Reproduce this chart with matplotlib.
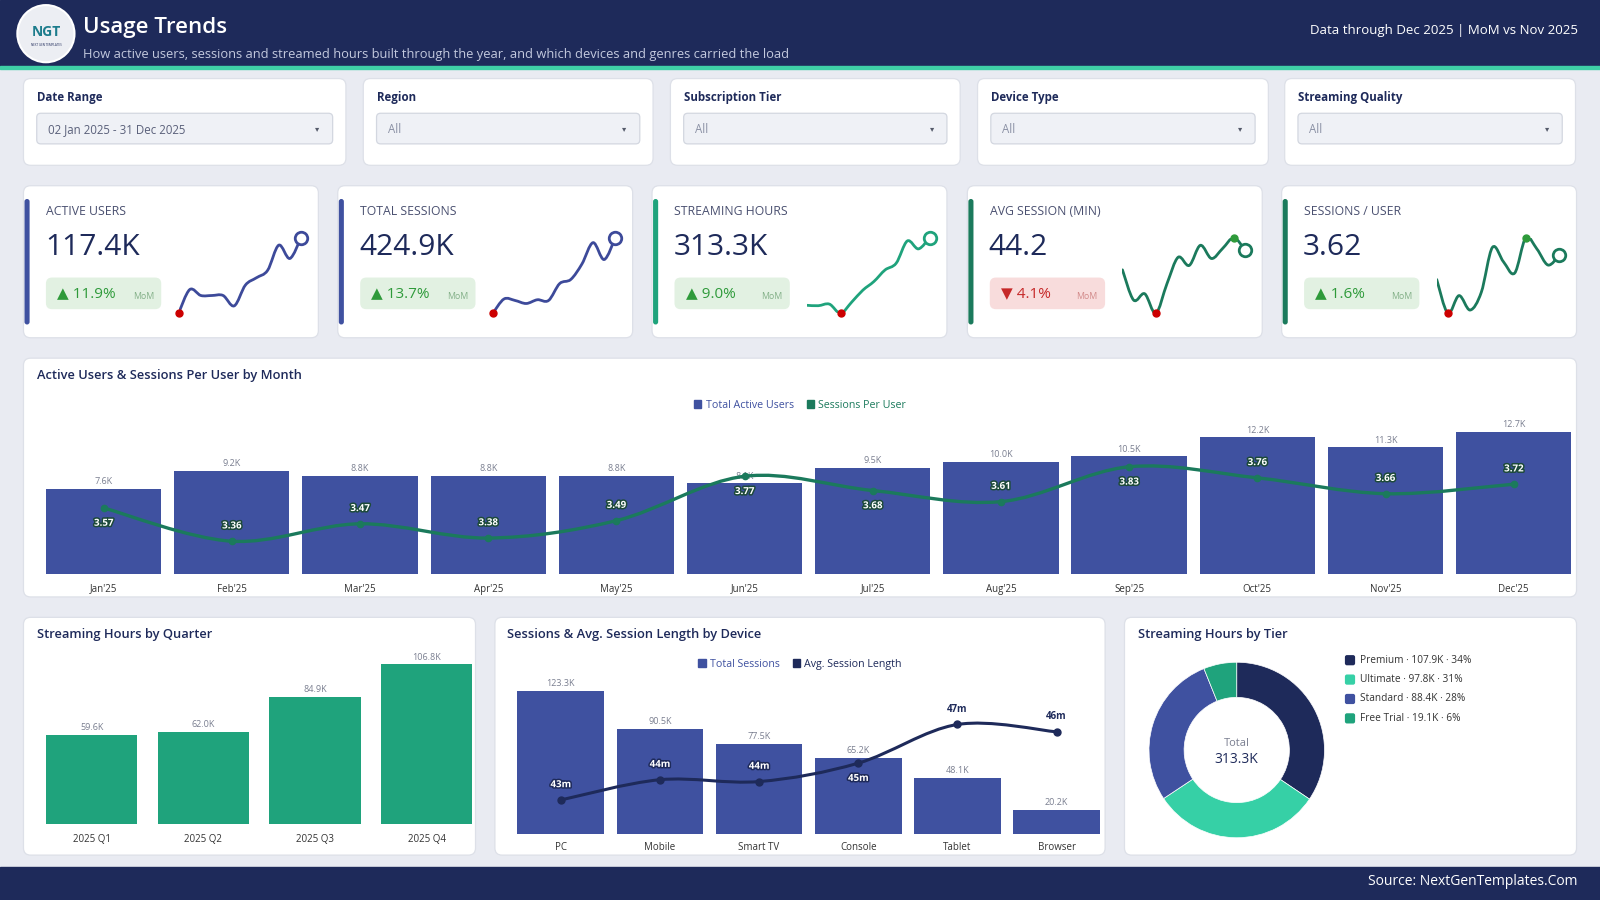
import matplotlib
matplotlib.use("Agg")
import matplotlib.pyplot as plt
from matplotlib.patches import FancyBboxPatch, Rectangle, Circle, Patch, PathPatch
from matplotlib.path import Path
import matplotlib.patheffects as pe

plt.rcParams['font.family'] = ['Open Sans', 'DejaVu Sans']

# ---- data ----
months = ["Jan'25", "Feb'25", "Mar'25", "Apr'25", "May'25", "Jun'25",
          "Jul'25", "Aug'25", "Sep'25", "Oct'25", "Nov'25", "Dec'25"]
active_users = [7.6, 9.2, 8.8, 8.8, 8.8, 8.1, 9.5, 10.0, 10.5, 12.2, 11.3, 12.7]
sessions_per_user = [3.57, 3.36, 3.47, 3.38, 3.49, 3.77, 3.68, 3.61, 3.83, 3.76, 3.66, 3.72]
spu_label_side = [-1, 1, 1, 1, 1, -1, -1, 1, -1, 1, 1, 1]   # 1 = above point, -1 = below
monthly_sessions = [27.1, 30.9, 30.5, 29.7, 30.7, 30.5, 35.0, 36.1, 40.2, 45.9, 41.4, 47.2]
monthly_hours = [19.8, 19.7, 20.1, 17.8, 20.6, 23.6, 25.8, 28.7, 30.4, 36.0, 34.0, 36.8]
monthly_avg_min = [41.0, 36.2, 37.2, 34.1, 38.8, 43.0, 41.7, 44.9, 42.8, 44.4, 46.1, 44.2]

kpi_titles = ["ACTIVE USERS", "TOTAL SESSIONS", "STREAMING HOURS", "AVG SESSION (MIN)", "SESSIONS / USER"]
kpi_values = ["117.4K", "424.9K", "313.3K", "44.2", "3.62"]
kpi_changes = [11.9, 13.7, 9.0, -4.1, 1.6]

quarters = ["2025 Q1", "2025 Q2", "2025 Q3", "2025 Q4"]
quarter_hours = [59.6, 62.0, 84.9, 106.8]

devices = ["PC", "Mobile", "Smart TV", "Console", "Tablet", "Browser"]
device_sessions = [123.3, 90.5, 77.5, 65.2, 48.1, 20.2]
device_avg_len = [42.6, 43.7, 43.6, 44.6, 46.7, 46.3]

tiers = ["Premium", "Ultimate", "Standard", "Free Trial"]
tier_hours = [107.9, 97.8, 88.4, 19.1]
tier_pct = [34, 31, 28, 6]
tier_total = "313.3K"

filter_labels = ["Date Range", "Region", "Subscription Tier", "Device Type", "Streaming Quality"]
filter_values = ["02 Jan 2025 - 31 Dec 2025", "All", "All", "All", "All"]

# ---- colours ----
BG = '#e9ebf2'
NAVY = '#1e2a5a'
BLUE = '#3f51a0'
TEAL = '#1fa37c'
GREEN = '#1b7a5c'
MINT = '#36d0a6'
BORDER = '#dde0e8'
LBL = '#7a7f90'

W, H = 1568, 882
fig = plt.figure(figsize=(16, 9), dpi=100)
bg = fig.add_axes([0, 0, 1, 1])
bg.set_xlim(0, W)
bg.set_ylim(H, 0)
bg.axis('off')
bg.add_patch(Rectangle((0, 0), W, H, color=BG, zorder=0))


def px_axes(x0, y0, x1, y1):
    ax = fig.add_axes([x0 / W, 1 - y1 / H, (x1 - x0) / W, (y1 - y0) / H])
    ax.set_facecolor('none')
    return ax


def card(x0, y0, x1, y1):
    bg.add_patch(FancyBboxPatch((x0, y0), x1 - x0, y1 - y0,
                                boxstyle="round,pad=0,rounding_size=7",
                                fc='white', ec=BORDER, lw=0.9, zorder=1))


def smooth(ax, xs, ys, color, lw, zorder=3):
    pts = list(zip(xs, ys))
    n = len(pts)
    verts = [pts[0]]
    codes = [Path.MOVETO]
    for i in range(n - 1):
        p0 = pts[i - 1] if i > 0 else pts[i]
        p1, p2 = pts[i], pts[i + 1]
        p3 = pts[i + 2] if i + 2 < n else pts[i + 1]
        c1 = (p1[0] + (p2[0] - p0[0]) / 6, p1[1] + (p2[1] - p0[1]) / 6)
        c2 = (p2[0] - (p3[0] - p1[0]) / 6, p2[1] - (p3[1] - p1[1]) / 6)
        verts += [c1, c2, p2]
        codes += [Path.CURVE4] * 3
    ax.add_patch(PathPatch(Path(verts, codes), fill=False, ec=color, lw=lw,
                           capstyle='round', joinstyle='round', zorder=zorder))


# ---- header ----
bg.add_patch(Rectangle((0, 0), W, 65, color=NAVY, zorder=1))
bg.add_patch(Rectangle((0, 65), W, 3, color='#3fcfa6', zorder=1))
bg.add_patch(Circle((45, 33), 28, fc='#eceef3', ec='white', lw=1.5, zorder=2))
bg.text(45, 31, "NGT", ha='center', va='center', fontsize=10, fontweight='bold', color='#1c7c8c', zorder=3)
bg.text(45, 44, "NEXT GEN TEMPLATES", ha='center', va='center', fontsize=2.2, color=NAVY, zorder=3)
bg.text(81, 27, "Usage Trends", ha='left', va='center', fontsize=16, fontweight='semibold', color='white', zorder=3)
bg.text(81, 53, "How active users, sessions and streamed hours built through the year, and which devices and genres carried the load",
        ha='left', va='center', fontsize=9.3, color='#c3c9de', zorder=3)
bg.text(1546, 30, "Data through Dec 2025 | MoM vs Nov 2025", ha='right', va='center', fontsize=9.5, color='white', zorder=3)

# ---- filters ----
filter_x = [(23, 339), (356, 640), (657, 941), (958, 1243), (1259, 1544)]
for (x0, x1), lab, val in zip(filter_x, filter_labels, filter_values):
    card(x0, 77, x1, 162)
    bg.text(x0 + 13, 96, lab, ha='left', va='center', fontsize=8.3, fontweight='bold', color=NAVY, zorder=3)
    bg.add_patch(FancyBboxPatch((x0 + 13, 111), x1 - x0 - 26, 30, boxstyle="round,pad=0,rounding_size=4",
                                fc='#eff1f6', ec='#d3d7e0', lw=0.9, zorder=2))
    bg.text(x0 + 24, 127, val, ha='left', va='center', fontsize=8.3,
            color='#5a607a' if val != "All" else '#8a90a4', zorder=3)
    bg.text(x1 - 28, 127, "▾", ha='center', va='center', fontsize=6, color='#555a6a', zorder=3)

# ---- KPI cards ----
kpi_x = [(23, 312), (331, 620), (639, 928), (948, 1237), (1256, 1545)]
kpi_color = [BLUE, BLUE, TEAL, GREEN, GREEN]
spark_series = [active_users, monthly_sessions, monthly_hours, monthly_avg_min, sessions_per_user]
for i, (x0, x1) in enumerate(kpi_x):
    card(x0, 182, x1, 331)
    bg.add_patch(FancyBboxPatch((x0 + 1, 195), 5, 123, boxstyle="round,pad=0,rounding_size=2.5",
                                fc=kpi_color[i], ec='none', zorder=2))
    bg.text(x0 + 22, 207, kpi_titles[i], ha='left', va='center', fontsize=8.8, color='#4a5070', zorder=3)
    bg.text(x0 + 21, 243, kpi_values[i], ha='left', va='center', fontsize=21.5, color=NAVY, zorder=3)
    up = kpi_changes[i] >= 0
    bg.add_patch(FancyBboxPatch((x0 + 22, 272), 113, 31, boxstyle="round,pad=0,rounding_size=6",
                                fc='#e2f1e2' if up else '#f8dcdc', ec='none', zorder=2))
    bg.text(x0 + 33, 288, ("▲ " if up else "▼ ") + f"{abs(kpi_changes[i]):.1f}%", ha='left', va='center',
            fontsize=11, color='#2e9a3a' if up else '#c62828', zorder=3)
    bg.text(x0 + 107, 291, "MoM", ha='left', va='center', fontsize=6.3,
            color='#83b088' if up else '#d28a8a', zorder=3)

    s = spark_series[i]
    ax = px_axes(x0 + 152, 233, x0 + 272, 307)
    ax.set_xlim(0, len(s) - 1)
    ax.set_ylim(min(s), max(s))
    ax.axis('off')
    xs = list(range(len(s)))
    line_c = kpi_color[i] if i > 1 else '#3d4a9a'
    smooth(ax, xs, s, line_c, 2.0)
    imin = s.index(min(s))
    imax = s.index(max(s))
    ax.plot([imin], [s[imin]], 'o', color='#cc0000', ms=5, clip_on=False, zorder=5)
    if imax != len(s) - 1:
        ax.plot([imax], [s[imax]], 'o', color='#2e9a3a', ms=5, clip_on=False, zorder=5)
    ax.plot([xs[-1]], [s[-1]], 'o', mfc='white', mec=line_c, mew=2, ms=9, clip_on=False, zorder=5)

# ---- monthly chart ----
card(23, 351, 1545, 585)
bg.text(36, 368, "Active Users & Sessions Per User by Month", ha='left', va='center',
        fontsize=9.3, fontweight='semibold', color=NAVY, zorder=3)
ax = px_axes(45, 400, 1540, 563)
xm = list(range(len(months)))
bars = ax.bar(xm, active_users, width=0.9, color=BLUE, zorder=2)
ax.bar_label(bars, labels=[f"{v:.1f}K" for v in active_users], padding=2, fontsize=6.5, color=LBL)
ax.set_xlim(-0.45, len(months) - 0.55)
ax.set_ylim(0, 14.8)
ax.set_xticks(xm)
ax.set_xticklabels(months, fontsize=7, color='#333')
ax.tick_params(axis='x', length=0, pad=6.5)
ax.set_yticks([])
for sp in ax.spines.values():
    sp.set_visible(False)
ax2 = ax.twinx()
ax2.set_ylim(3.15, 4.2)
ax2.set_yticks([])
for sp in ax2.spines.values():
    sp.set_visible(False)
smooth(ax2, xm, sessions_per_user, GREEN, 2.4)
ax2.plot(xm, sessions_per_user, 'o', color=GREEN, ms=4.5, zorder=4)
for x, v, side in zip(xm, sessions_per_user, spu_label_side):
    ax2.annotate(f"{v:.2f}", (x, v), xytext=(0, 11 * side), textcoords='offset points',
                 ha='center', va='center', fontsize=7, fontweight='bold', color='white', zorder=5,
                 path_effects=[pe.withStroke(linewidth=2.2, foreground='#1d4a3a')])
ax.legend(handles=[Patch(color=BLUE), Patch(color=GREEN)], labels=["Total Active Users", "Sessions Per User"],
          loc='center', bbox_to_anchor=(784 / W, 1 - 397 / H), bbox_transform=fig.transFigure, ncol=2,
          frameon=False, fontsize=7.7, handlelength=0.7, handleheight=0.7, handletextpad=0.4,
          columnspacing=1.2, labelcolor=[BLUE, GREEN])

# ---- quarter chart ----
card(23, 605, 466, 838)
bg.text(36, 622, "Streaming Hours by Quarter", ha='left', va='center',
        fontsize=9.3, fontweight='semibold', color=NAVY, zorder=3)
ax = px_axes(45, 640, 463, 808)
xq = list(range(len(quarters)))
bars = ax.bar(xq, quarter_hours, width=0.82, color=TEAL, zorder=2)
ax.bar_label(bars, labels=[f"{v:.1f}K" for v in quarter_hours], padding=2, fontsize=6.5, color=LBL)
ax.set_xlim(-0.41, len(quarters) - 0.59)
ax.set_ylim(0, 114.3)
ax.set_xticks(xq)
ax.set_xticklabels(quarters, fontsize=7, color='#333')
ax.tick_params(axis='x', length=0, pad=7)
ax.set_yticks([])
for sp in ax.spines.values():
    sp.set_visible(False)

# ---- device chart ----
card(485, 605, 1083, 838)
bg.text(497, 622, "Sessions & Avg. Session Length by Device", ha='left', va='center',
        fontsize=9.3, fontweight='semibold', color=NAVY, zorder=3)
ax = px_axes(507, 660, 1078, 817)
xd = list(range(len(devices)))
bars = ax.bar(xd, device_sessions, width=0.875, color=BLUE, zorder=2)
ax.bar_label(bars, labels=[f"{v:.1f}K" for v in device_sessions], padding=2, fontsize=6.5, color=LBL)
ax.set_xlim(-0.4375, len(devices) - 0.5625)
ax.set_ylim(0, 138.3)
ax.set_xticks(xd)
ax.set_xticklabels(devices, fontsize=7, color='#333')
ax.tick_params(axis='x', length=0, pad=6)
ax.set_yticks([])
for sp in ax.spines.values():
    sp.set_visible(False)
ax2 = ax.twinx()
lo2, hi2 = 40.77, 49.47
ax2.set_ylim(lo2, hi2)
ax2.set_yticks([])
for sp in ax2.spines.values():
    sp.set_visible(False)
smooth(ax2, xd, device_avg_len, NAVY, 2.2)
ax2.plot(xd, device_avg_len, 'o', color=NAVY, ms=5, zorder=4)
for x, v, b in zip(xd, device_avg_len, device_sessions):
    inside = (v - lo2) / (hi2 - lo2) * 138.3 < b
    side = -1 if x == 3 else 1
    if inside:
        ax2.annotate(f"{v:.0f}m", (x, v), xytext=(0, 11 * side), textcoords='offset points',
                     ha='center', va='center', fontsize=7, fontweight='bold', color='white', zorder=5,
                     path_effects=[pe.withStroke(linewidth=2.2, foreground=NAVY)])
    else:
        ax2.annotate(f"{v:.0f}m", (x, v), xytext=(0, 11), textcoords='offset points',
                     ha='center', va='center', fontsize=7, fontweight='bold', color=NAVY, zorder=5)
ax.legend(handles=[Patch(color=BLUE), Patch(color=NAVY)], labels=["Total Sessions", "Avg. Session Length"],
          loc='center', bbox_to_anchor=(784 / W, 1 - 651 / H), bbox_transform=fig.transFigure, ncol=2,
          frameon=False, fontsize=7.7, handlelength=0.7, handleheight=0.7, handletextpad=0.4,
          columnspacing=1.2, labelcolor=[BLUE, NAVY])

# ---- tier donut ----
card(1102, 605, 1545, 838)
bg.text(1115, 622, "Streaming Hours by Tier", ha='left', va='center',
        fontsize=9.3, fontweight='semibold', color=NAVY, zorder=3)
tier_colors = [NAVY, MINT, BLUE, TEAL]
ax = px_axes(1126, 649, 1298, 821)
ax.pie(tier_hours, colors=tier_colors, startangle=90, counterclock=False, radius=1,
       wedgeprops=dict(width=0.4, edgecolor='white', linewidth=0.5))
ax.set_xlim(-1, 1)
ax.set_ylim(-1, 1)
ax.text(0, 0.07, "Total", ha='center', va='center', fontsize=8, color='#7a7f90')
ax.text(0, -0.11, tier_total, ha='center', va='center', fontsize=10, color=NAVY)
for k, (t, v, p, c) in enumerate(zip(tiers, tier_hours, tier_pct, tier_colors)):
    y = 647 + 19 * k
    bg.add_patch(FancyBboxPatch((1318, y - 5), 10, 10, boxstyle="round,pad=0,rounding_size=2",
                                fc=c, ec='none', zorder=3))
    bg.text(1333, y, f"{t} · {v:.1f}K · {p}%", ha='left', va='center',
            fontsize=7.3, color='#333', zorder=3)

# ---- footer ----
bg.add_patch(Rectangle((0, 850), W, 32, color=NAVY, zorder=1))
bg.text(1546, 864, "Source: NextGenTemplates.Com", ha='right', va='center', fontsize=10, color='white', zorder=3)

fig.savefig("out.png", dpi=100)
